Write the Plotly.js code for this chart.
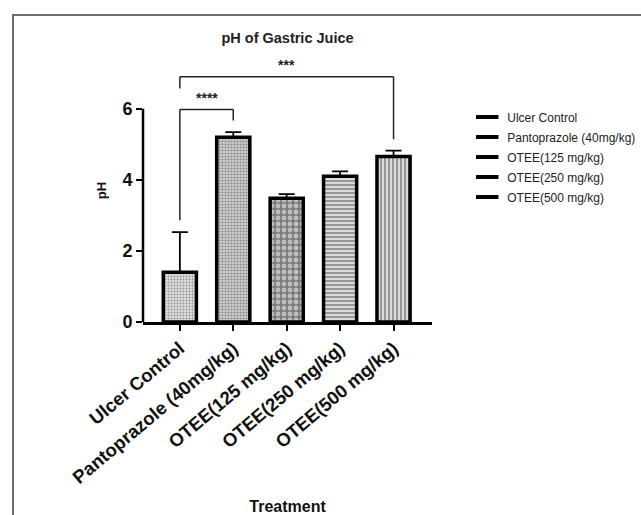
<!DOCTYPE html>
<html>
<head>
<meta charset="utf-8">
<script src="https://cdn.plot.ly/plotly-3.0.1.min.js"></script>
<style>
  html, body { margin: 0; padding: 0; background: #fff; }
  #wrap { position: relative; width: 641px; height: 515px; overflow: hidden; }
  #chart { width: 641px; height: 515px; }
  #frame { position: absolute; left: 12px; top: 14px; width: 700px; height: 600px;
           border-left: 2px solid #6e6e6e; border-top: 2px solid #6e6e6e; pointer-events: none; }
</style>
</head>
<body>
<div id="wrap">
  <div id="chart"></div>
  <div id="frame"></div>
</div>
<script>
// ---- data ----
const categories = ['Ulcer Control', 'Pantoprazole (40mg/kg)', 'OTEE(125 mg/kg)', 'OTEE(250 mg/kg)', 'OTEE(500 mg/kg)'];
const phMean = [1.40, 5.20, 3.48, 4.10, 4.66];
const phErrUp = [1.13, 0.14, 0.12, 0.14, 0.16];
const yTickVals = [0, 2, 4, 6];

// significance brackets (category index pairs, bracket height, leg ends, label)
const sigFrom = [0, 0];
const sigTo = [1, 4];
const sigTop = [5.98, 6.90];
const sigLeftEnd = [2.86, 6.57];
const sigRightEnd = [5.67, 5.14];
const sigLabel = ['****', '***'];
const sigLabelY = [6.30, 7.22];

// ---- style ----
const FONT = 'Liberation Sans, Arial, sans-serif';
const patternShapes = ['.', '.', '.', '-', '|'];
const patternBg = ['#dedede', '#cdcdcd', '#7c7c7c', '#dadada', '#dadada'];
const patternFg = ['#b0b0b0', '#9a9a9a', '#ffffff', '#a2a2a2', '#a2a2a2'];
const patternSize = [3, 3, 6, 4, 4];
const patternSolidity = [0.3, 0.4, 0.5, 0.45, 0.45];

const traces = [{
  type: 'bar',
  x: categories,
  y: phMean,
  width: 0.62,
  showlegend: false,
  marker: {
    color: patternBg,
    line: { color: '#000', width: 3.5 },
    pattern: {
      shape: patternShapes,
      fgcolor: patternFg,
      size: patternSize,
      solidity: patternSolidity,
      fillmode: 'overlay'
    }
  },
  error_y: {
    type: 'data',
    symmetric: false,
    array: phErrUp,
    arrayminus: phErrUp.map(() => 0),
    color: '#000',
    thickness: 1.8,
    width: 8
  },
  hoverinfo: 'x+y'
}];

// legend entries: black dashes
categories.forEach((c, i) => {
  traces.push({
    type: 'scatter',
    mode: 'markers',
    x: [null], y: [null],
    name: c,
    legendgroup: 'g' + i,
    marker: { symbol: 'line-ew', size: 16, color: '#000', line: { color: '#000', width: 4 } },
    hoverinfo: 'skip'
  });
});

const shapes = [
  // y-axis line from 0 to 6
  { type: 'line', xref: 'paper', yref: 'y', x0: 0, x1: 0, y0: 0, y1: yTickVals[yTickVals.length - 1],
    line: { color: '#000', width: 2.5 } }
];
const annotations = [];
for (let k = 0; k < sigFrom.length; k++) {
  const a = categories[sigFrom[k]], b = categories[sigTo[k]];
  const ln = { color: '#222', width: 1.5 };
  shapes.push({ type: 'line', xref: 'x', yref: 'y', x0: a, x1: a, y0: sigLeftEnd[k], y1: sigTop[k], line: ln });
  shapes.push({ type: 'line', xref: 'x', yref: 'y', x0: a, x1: b, y0: sigTop[k], y1: sigTop[k], line: ln });
  shapes.push({ type: 'line', xref: 'x', yref: 'y', x0: b, x1: b, y0: sigTop[k], y1: sigRightEnd[k], line: ln });
  annotations.push({
    xref: 'x', yref: 'y', x: (sigFrom[k] + sigTo[k]) / 2, y: sigLabelY[k],
    text: sigLabel[k], showarrow: false, yanchor: 'middle',
    font: { family: FONT, size: 14, color: '#222', weight: 700 }
  });
}

const layout = {
  width: 641, height: 515,
  margin: { l: 143, r: 209, t: 59, b: 193, autoexpand: false },
  paper_bgcolor: '#fff', plot_bgcolor: '#fff',
  font: { family: FONT, color: '#111' },
  title: {
    text: 'pH of Gastric Juice',
    font: { family: FONT, size: 14.5, color: '#222', weight: 700 },
    x: 0.5, xref: 'paper', xanchor: 'center',
    y: 1 - 38 / 515, yref: 'container', yanchor: 'middle'
  },
  xaxis: {
    type: 'category',
    range: [-0.69, 4.72],
    showgrid: false, zeroline: false,
    showline: true, linecolor: '#000', linewidth: 2.5,
    ticks: 'outside', ticklen: 6, tickwidth: 2, tickcolor: '#000',
    tickangle: -40,
    tickfont: { family: FONT, size: 18.5, color: '#111', weight: 700 },
    title: { text: 'Treatment', standoff: 15, font: { family: FONT, size: 16, color: '#111', weight: 700 } },
    automargin: false
  },
  yaxis: {
    range: [0, 7.4],
    tickvals: yTickVals,
    showgrid: false, zeroline: false, showline: false,
    ticks: 'outside', ticklen: 6, tickwidth: 2, tickcolor: '#000',
    tickfont: { family: FONT, size: 18, color: '#111', weight: 700 },
    title: { text: 'pH', standoff: 12, font: { family: FONT, size: 13, color: '#111', weight: 700 } },
    automargin: false
  },
  legend: {
    x: 1.122, xanchor: 'left', y: 0.835, yanchor: 'top',
    font: { family: FONT, size: 12, color: '#222' },
    bgcolor: 'rgba(0,0,0,0)', borderwidth: 0,
    tracegroupgap: 1, itemclick: false
  },
  shapes: shapes,
  annotations: annotations,
  bargap: 0.38
};

Plotly.newPlot('chart', traces, layout, { displayModeBar: false, staticPlot: true });
</script>
</body>
</html>
